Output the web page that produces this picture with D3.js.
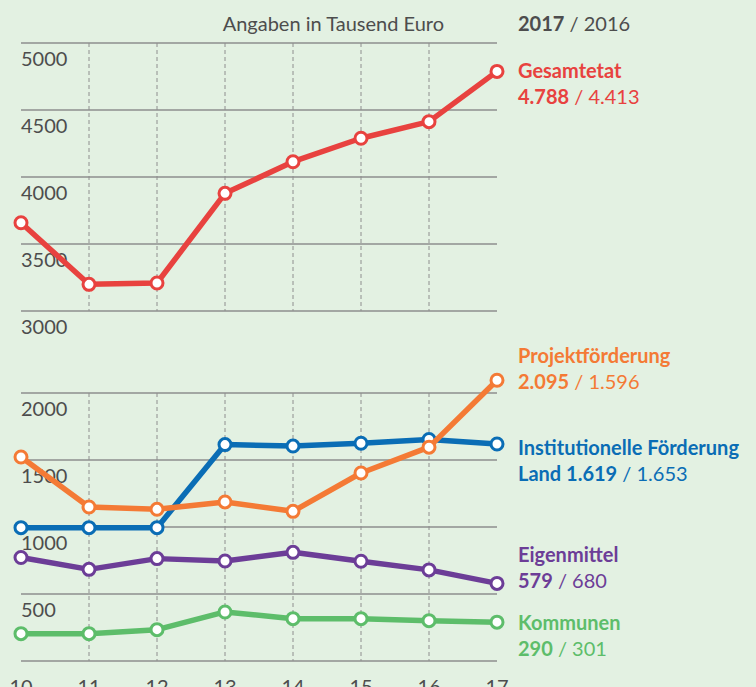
<!DOCTYPE html>
<html><head><meta charset="utf-8">
<script src="https://cdn.jsdelivr.net/npm/d3@7"></script>
<style>
html,body{margin:0;padding:0;background:#e3f1e2;}
svg{display:block;}
text{font-family:"Lato","Noto Sans",sans-serif;}
</style></head>
<body>
<svg id="chart" width="756" height="687"></svg>
<script>
const years = [10, 11, 12, 13, 14, 15, 16, 17];
const gesamtetat = [3659, 3199, 3209, 3878, 4114, 4289, 4413, 4788];
const projekt = [1522, 1149, 1132, 1187, 1117, 1403, 1596, 2095];
const institutionell = [995, 995, 995, 1615, 1604, 1625, 1653, 1619];
const eigenmittel = [772, 684, 764, 746, 811, 744, 680, 579];
const kommunen = [204, 204, 234, 366, 316, 316, 301, 290];
const upperTicks = [3000, 3500, 4000, 4500, 5000];
const lowerTicks = [0, 500, 1000, 1500, 2000];
const lowerTickLabels = ["", "500", "1000", "1500", "2000"];

const series = [
  {name: "Gesamtetat", name2: null, values: gesamtetat, color: "#e8423f", panel: "upper", labelY: 78, v17: "4.788", v16: "4.413"},
  {name: "Institutionelle Förderung", name2: "Land ", values: institutionell, color: "#0a6db5", panel: "lower", labelY: 455, v17: "1.619", v16: "1.653"},
  {name: "Projektförderung", name2: null, values: projekt, color: "#f47a35", panel: "lower", labelY: 363, v17: "2.095", v16: "1.596"},
  {name: "Eigenmittel", name2: null, values: eigenmittel, color: "#6c3d97", panel: "lower", labelY: 562, v17: "579", v16: "680"},
  {name: "Kommunen", name2: null, values: kommunen, color: "#5dbd6a", panel: "lower", labelY: 630, v17: "290", v16: "301"}
];

const svg = d3.select("#chart");
const x = d3.scaleLinear().domain([10, 17]).range([21, 497]);
const yU = d3.scaleLinear().domain([3000, 5000]).range([311, 43]);
const yL = d3.scaleLinear().domain([0, 2000]).range([661, 393]);
const textCol = "#4d4d4d";
const gridCol = "#8e8e8e";

function panel(scale, ticks, labels) {
  const g = svg.append("g");
  g.selectAll("line.h").data(ticks).join("line")
    .attr("x1", x(10)).attr("x2", x(17))
    .attr("y1", d => scale(d)).attr("y2", d => scale(d))
    .attr("stroke", gridCol).attr("stroke-width", 1.3);
  g.selectAll("line.v").data(years.slice(1, -1)).join("line")
    .attr("x1", d => x(d)).attr("x2", d => x(d))
    .attr("y1", scale(ticks[ticks.length-1])).attr("y2", scale(ticks[0]))
    .attr("stroke", gridCol).attr("stroke-width", 1).attr("stroke-dasharray", "4,3");
  g.selectAll("text").data(ticks).join("text")
    .attr("x", x(10)).attr("y", d => scale(d) + 23)
    .attr("fill", textCol).attr("font-size", 20)
    .text((d, i) => labels[i]);
}
panel(yU, upperTicks, upperTicks.map(String));
panel(yL, lowerTicks, lowerTickLabels);

svg.append("g").selectAll("text").data(years).join("text")
  .attr("x", d => x(d)).attr("y", 694).attr("text-anchor", "middle")
  .attr("fill", textCol).attr("font-size", 20).text(d => d);

svg.append("text").attr("x", 444).attr("y", 31).attr("text-anchor", "end")
  .attr("fill", textCol).attr("font-size", 20).text("Angaben in Tausend Euro");
const hdr = svg.append("text").attr("x", 518).attr("y", 31).attr("fill", textCol).attr("font-size", 20);
hdr.append("tspan").attr("font-weight", "bold").text("2017");
hdr.append("tspan").text(" / 2016");

series.forEach(s => {
  const ys = s.panel === "upper" ? yU : yL;
  const line = d3.line().x((d, i) => x(years[i])).y(d => ys(d));
  const g = svg.append("g");
  g.append("path").datum(s.values).attr("d", line)
    .attr("fill", "none").attr("stroke", s.color).attr("stroke-width", 5.5)
    .attr("stroke-linejoin", "round");
  g.selectAll("circle").data(s.values).join("circle")
    .attr("cx", (d, i) => x(years[i])).attr("cy", d => ys(d)).attr("r", 6)
    .attr("fill", "#fff").attr("stroke", s.color).attr("stroke-width", 3);
  const t1 = svg.append("text").attr("x", 518).attr("y", s.labelY)
    .attr("fill", s.color).attr("font-size", 20).attr("font-weight", "bold").text(s.name);
  const t2 = svg.append("text").attr("x", 518).attr("y", s.labelY + 26)
    .attr("fill", s.color).attr("font-size", 20);
  t2.append("tspan").attr("font-weight", "bold").text((s.name2 || "") + s.v17);
  t2.append("tspan").text(" / " + s.v16);
});
</script>
</body></html>
